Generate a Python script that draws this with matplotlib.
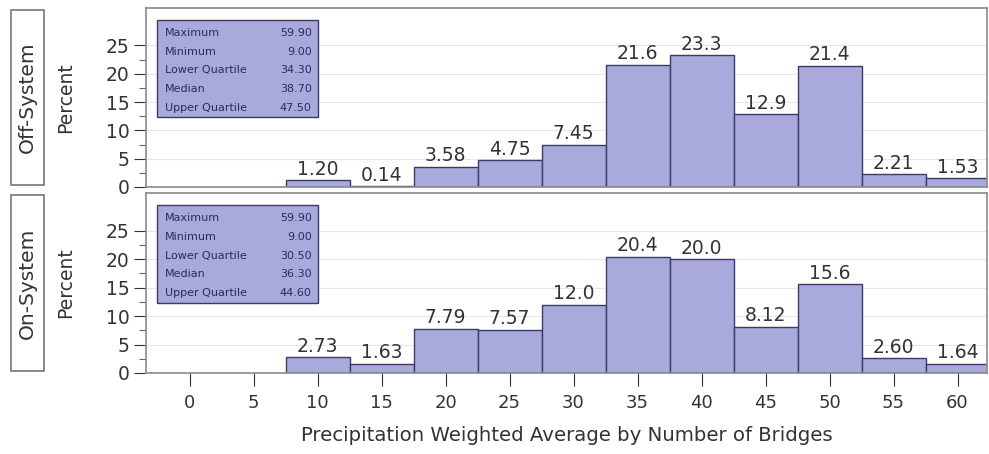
import matplotlib.pyplot as plt
from matplotlib.patches import Rectangle
from matplotlib.ticker import FixedLocator

bins = [10, 15, 20, 25, 30, 35, 40, 45, 50, 55, 60]
off_pct = [1.20, 0.14, 3.58, 4.75, 7.45, 21.6, 23.3, 12.9, 21.4, 2.21, 1.53]
on_pct = [2.73, 1.63, 7.79, 7.57, 12.0, 20.4, 20.0, 8.12, 15.6, 2.60, 1.64]
off_labels = ["1.20", "0.14", "3.58", "4.75", "7.45", "21.6", "23.3", "12.9", "21.4", "2.21", "1.53"]
on_labels = ["2.73", "1.63", "7.79", "7.57", "12.0", "20.4", "20.0", "8.12", "15.6", "2.60", "1.64"]

stat_names = ["Maximum", "Minimum", "Lower Quartile", "Median", "Upper Quartile"]
off_stats = ["59.90", "9.00", "34.30", "38.70", "47.50"]
on_stats = ["59.90", "9.00", "30.50", "36.30", "44.60"]

xticks = [0, 5, 10, 15, 20, 25, 30, 35, 40, 45, 50, 55, 60]
yticks = [0, 5, 10, 15, 20, 25]
yminor = [2.5, 7.5, 12.5, 17.5, 22.5]

BAR = "#a9a9dc"
EDGE = "#3a3a6a"
TXT = "#333333"
W, H = 989, 454

plt.rcParams['font.family'] = 'DejaVu Sans'
fig = plt.figure(figsize=(W / 100, H / 100), dpi=100)


def px_axes(x0, y0, x1, y1):
    return fig.add_axes([x0 / W, 1 - y1 / H, (x1 - x0) / W, (y1 - y0) / H])


panels = [
    ("Off-System", off_pct, off_labels, off_stats, (8, 187)),
    ("On-System", on_pct, on_labels, on_stats, (193, 373)),
]

for i, (name, vals, labs, stats, (ytop, ybot)) in enumerate(panels):
    ax = px_axes(146, ytop, 987, ybot)
    bars = ax.bar(bins, vals, width=5, color=BAR, edgecolor=EDGE, linewidth=1, zorder=2)
    ax.bar_label(bars, labels=labs, padding=1, fontsize=13.5, color=TXT)
    ax.set_xlim(-3.4, 62.3)
    ax.set_ylim(0, 31.6)
    ax.set_yticks(yticks)
    ax.yaxis.set_minor_locator(FixedLocator(yminor))
    ax.grid(axis='y', color='#e6e6e6', linewidth=0.8, zorder=0)
    ax.set_xticks(xticks)
    ax.tick_params(axis='y', labelsize=13.5, colors=TXT, length=9, width=0.8, pad=3)
    ax.tick_params(axis='y', which='minor', length=5, width=0.8, colors='#666666')
    ax.tick_params(axis='x', labelsize=13, colors=TXT, length=9, width=0.8, pad=6)
    for s in ax.spines.values():
        s.set_color('#8a8a8a')
        s.set_linewidth(1.2)
    ax.set_ylabel("Percent", fontsize=13.5, color=TXT)
    ax.yaxis.set_label_coords(-0.084, 0.5)
    if i == 0:
        ax.tick_params(axis='x', labelbottom=False, length=0)
    else:
        ax.set_xlabel("Precipitation Weighted Average by Number of Bridges",
                      fontsize=14.2, color=TXT, labelpad=10)

    # summary statistics box
    ax.add_patch(Rectangle((0.013, 0.391), 0.192, 0.542, transform=ax.transAxes,
                           facecolor=BAR, edgecolor=EDGE, linewidth=1, zorder=3))
    for k, (sn, sv) in enumerate(zip(stat_names, stats)):
        yy = 0.86 - k * 0.104
        ax.text(0.022, yy, sn, transform=ax.transAxes, fontsize=8,
                color="#2a2a60", va='center', zorder=4)
        ax.text(0.197, yy, sv, transform=ax.transAxes, fontsize=8,
                color="#2a2a60", va='center', ha='right', zorder=4)

    # row label strip
    fig.patches.append(Rectangle((11 / W, 1 - (ybot - 2) / H), 33 / W, (ybot - ytop - 4) / H,
                                 transform=fig.transFigure, facecolor='white',
                                 edgecolor='#777777', linewidth=1.2))
    fig.text(27.5 / W, 1 - (ytop + ybot) / 2 / H, name, rotation=90, ha='center',
             va='center', fontsize=14.5, color=TXT)

fig.savefig("out.png", dpi=100)
